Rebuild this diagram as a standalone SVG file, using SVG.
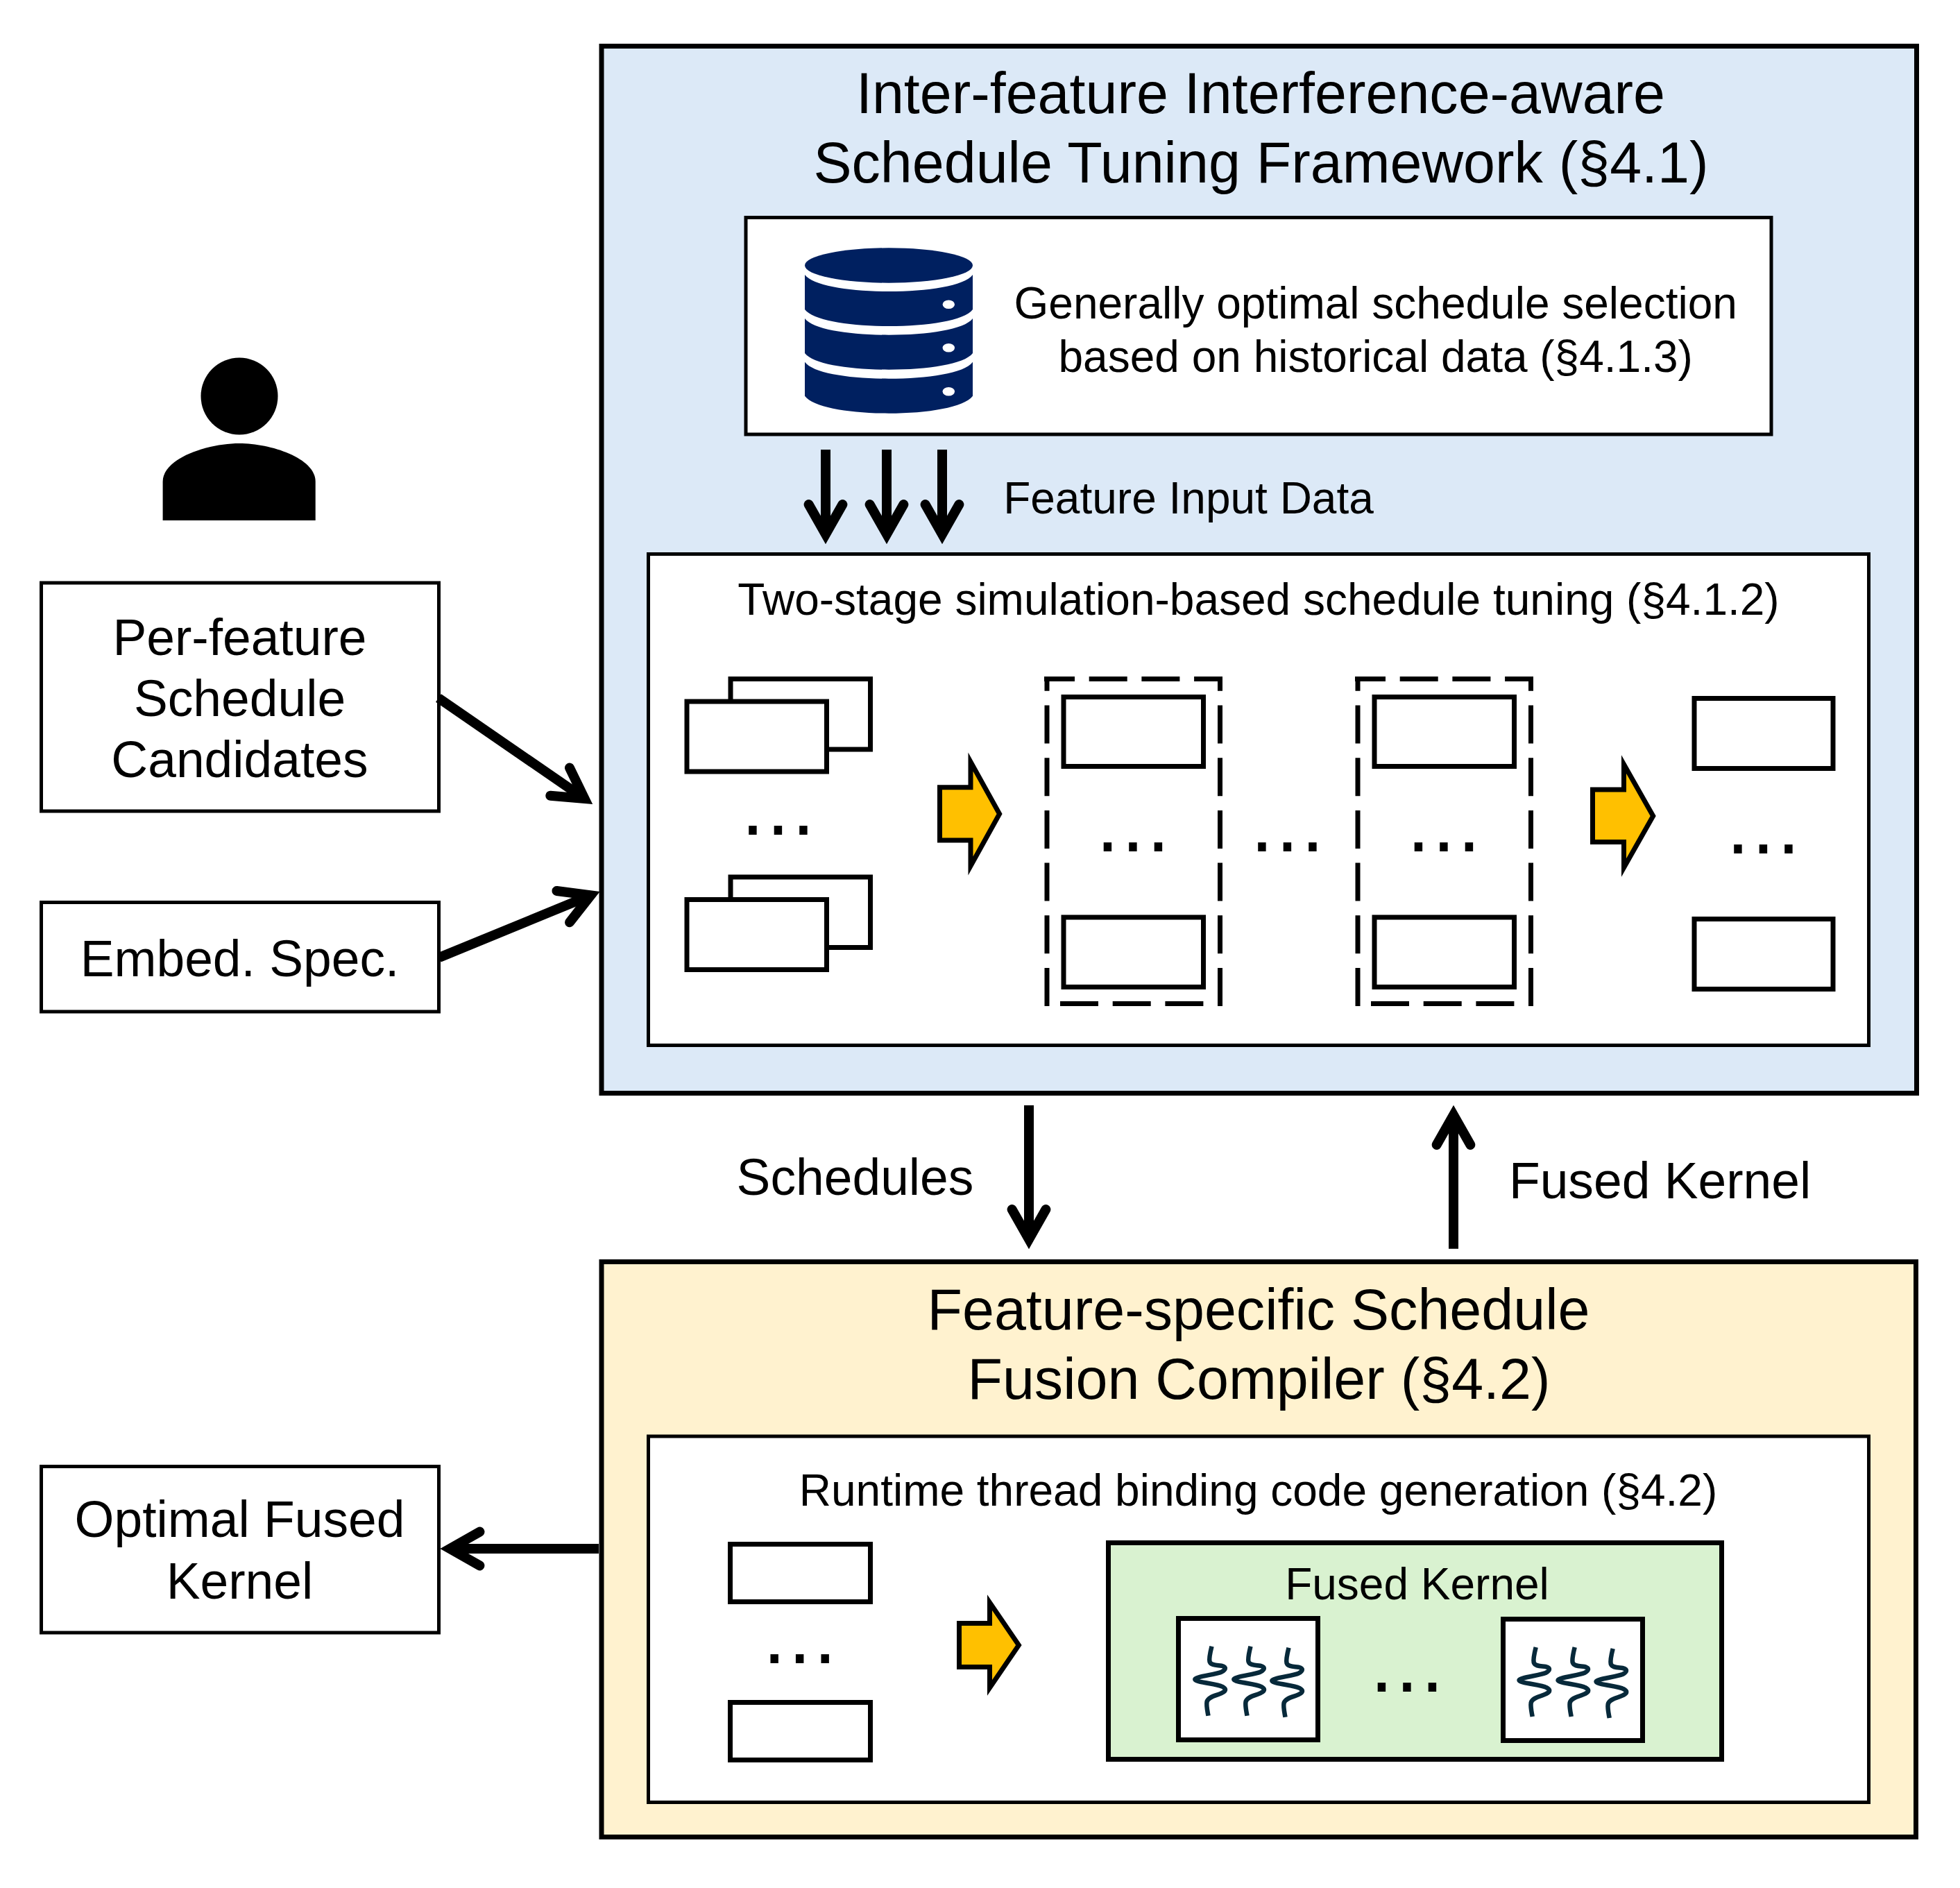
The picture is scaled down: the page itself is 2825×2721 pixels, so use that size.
<svg xmlns="http://www.w3.org/2000/svg" width="2825" height="2721" viewBox="0 0 2825 2721">
<style>
text{font-family:"Liberation Sans",Arial,sans-serif;fill:#000;text-anchor:middle}
.t82{font-size:82.6px}.t72{font-size:73.2px}.t64{font-size:64px}.dots{font-size:120px;letter-spacing:3.2px}
.outer{stroke:#000;stroke-width:7}.panel{fill:#fff;stroke:#000;stroke-width:5}
.box{fill:#fff;stroke:#000;stroke-width:5}.r{fill:#fff;stroke:#000;stroke-width:7}
.dash{fill:none;stroke:#000;stroke-width:7;stroke-dasharray:55 20.7}
.y{fill:#FFC000;stroke:#000;stroke-width:7;stroke-miterlimit:12}
.a{fill:none;stroke:#000;stroke-width:14;marker-end:url(#open)}
.w{fill:none;stroke:#07293A;stroke-width:6.5}
</style>
<defs>
<marker id="open" markerUnits="userSpaceOnUse" markerWidth="120" markerHeight="120" refX="0" refY="0" orient="auto" viewBox="-60 -60 120 120" overflow="visible">
<path d="M-43,-24.4L0,0L-43,24.4" fill="none" stroke="#000" stroke-width="14" stroke-linecap="round" stroke-miterlimit="10"/>
</marker>
<g id="waves">
<path id="wave" class="w" d="M0,0C-2,8-4,18-3,22C-1,28 8,27 14,28C22,30 20,34 14,37C4,41-26,44-24,48C-22,52 8,54 15,58C21,61 21,64 15,67C8,71-5,72-7,80C-8,86-6,94-5,100"/>
<use href="#wave" x="56" y="0"/>
<use href="#wave" x="111" y="2"/>
</g>
<g id="dashframe">
<path class="dash" d="M1509,1450V975"/>
<path class="dash" d="M1758.5,1450V975"/>
<path class="dash" style="stroke-dashoffset:11" d="M1505,978.5H1762"/>
<path class="dash" d="M1528,1446.5H1735"/>
<rect class="r" x="1533" y="1004.5" width="201.5" height="100"/>
<rect class="r" x="1533" y="1322" width="201.5" height="100.5"/>
<text class="dots" x="1634.6" y="1227">...</text>
</g>
<g id="stack">
<rect class="r" x="1053" y="978.5" width="201.5" height="101.5"/>
<rect class="r" x="990" y="1011" width="201.5" height="101"/>
</g>
</defs>
<rect width="2825" height="2721" fill="#fff"/>

<g id="user">
<circle cx="345" cy="571" r="55.5"/>
<path d="M234.6,750V694C234.6,660 300,639 345,639C390,639 454.7,660 454.7,694V750Z"/>
</g>

<g id="per-feature">
<rect class="box" x="59.5" y="840" width="573" height="329"/>
<text class="t72" x="345.5" y="943.5">Per-feature</text>
<text class="t72" x="345.5" y="1031.5">Schedule</text>
<text class="t72" x="345.5" y="1119.5">Candidates</text>
</g>
<g id="embed-spec">
<rect class="box" x="59.5" y="1300.5" width="573" height="157.5"/>
<text class="t72" x="345.5" y="1406.5">Embed. Spec.</text>
</g>
<g id="optimal">
<rect class="box" x="59.5" y="2113.5" width="573" height="239.5"/>
<text class="t72" x="345.5" y="2215">Optimal Fused</text>
<text class="t72" x="345.5" y="2303.5">Kernel</text>
</g>

<g id="tuning-framework">
<rect class="outer" fill="#DCE9F7" x="867" y="66.5" width="1895.5" height="1509"/>
<text class="t82" x="1817" y="162.5">Inter-feature Interference-aware</text>
<text class="t82" x="1817.5" y="262.5">Schedule Tuning Framework (§4.1)</text>
</g>
<g id="historical">
<rect class="panel" x="1075" y="313.5" width="1478" height="312.5"/>
<g id="database" fill="#002060">
<ellipse cx="1281" cy="382.5" rx="121" ry="25.2"/>
<path d="M1160,396C1172,412 1225,420 1281,420C1337,420 1390,412 1402,396V446C1390,462 1337,470 1281,470C1225,470 1172,462 1160,446Z"/>
<path d="M1160,459C1172,475 1225,482.7 1281,482.7C1337,482.7 1390,475 1402,459V509C1390,525 1337,532.7 1281,532.7C1225,532.7 1172,525 1160,509Z"/>
<path d="M1160,521.7C1172,538 1225,545.7 1281,545.7C1337,545.7 1390,538 1402,521.7V570.7C1390,587 1337,595.7 1281,595.7C1225,595.7 1172,587 1160,570.7Z"/>
<g fill="#fff"><ellipse cx="1367.3" cy="438.7" rx="8.7" ry="6.3"/><ellipse cx="1367.3" cy="501.3" rx="8.7" ry="6.3"/><ellipse cx="1367.3" cy="564.3" rx="8.7" ry="6.3"/></g>
</g>
<text class="t64" x="1982.7" y="459">Generally optimal schedule selection</text>
<text class="t64" x="1982.7" y="535.5">based on historical data (§4.1.3)</text>
</g>
<g id="feature-input-label"><text class="t64" x="1713" y="739.5">Feature Input Data</text></g>

<g id="simulation">
<rect class="panel" x="934.5" y="798.5" width="1759" height="708"/>
<text class="t64" x="1814" y="886">Two-stage simulation-based schedule tuning (§4.1.2)</text>
<use href="#stack"/>
<use href="#stack" y="285.5"/>
<text class="dots" x="1123" y="1203">...</text>
<path class="y" d="M1354.5,1134.7H1399V1098L1440.6,1173L1399,1248V1211H1354.5Z"/>
<use href="#dashframe"/>
<text class="dots" x="1857" y="1227">...</text>
<use href="#dashframe" x="448"/>
<path class="y" d="M2295.5,1138H2340.5V1101.5L2382.7,1176L2340.5,1250.5V1213.5H2295.5Z"/>
<rect class="r" x="2442" y="1006.5" width="200" height="101"/>
<rect class="r" x="2442" y="1324.5" width="200" height="101"/>
<text class="dots" x="2543" y="1230">...</text>
</g>

<g id="fusion-compiler">
<rect class="outer" fill="#FFF2CF" x="867" y="1818.5" width="1894.5" height="829"/>
<text class="t82" x="1814" y="1916">Feature-specific Schedule</text>
<text class="t82" x="1814.5" y="2015.5">Fusion Compiler (§4.2)</text>
</g>
<g id="runtime">
<rect class="panel" x="934.5" y="2070" width="1759" height="527.5"/>
<text class="t64" x="1813.5" y="2170">Runtime thread binding code generation (§4.2)</text>
<rect class="r" x="1052.5" y="2225.5" width="202" height="83"/>
<rect class="r" x="1052.5" y="2453.5" width="202" height="83"/>
<text class="dots" x="1154.2" y="2397">...</text>
<path class="y" d="M1382.5,2339.5H1426.5V2309.5L1468.4,2371L1426.5,2432.5V2402.5H1382.5Z"/>
</g>
<g id="fused-kernel">
<rect class="r" style="fill:#D9F2D0" x="1597.5" y="2223.5" width="884" height="312"/>
<text class="t64" x="2042.5" y="2305">Fused Kernel</text>
<rect class="r" x="1698.5" y="2332.5" width="201" height="175"/>
<use href="#waves" x="1746.5" y="2372.7"/>
<text class="dots" x="2029.6" y="2438">...</text>
<rect class="r" x="2166.5" y="2333.5" width="201" height="175"/>
<use href="#waves" x="2213.7" y="2374"/>
</g>

<g id="connector-labels">
<text class="t72" x="1232.5" y="1721.5">Schedules</text>
<text class="t72" x="2392.6" y="1726.5">Fused Kernel</text>
</g>
<g id="connectors">
<path class="a" d="M1190,648V770"/>
<path class="a" d="M1278,648V770"/>
<path class="a" d="M1358,648V770"/>
<path class="a" d="M632,1006L842.5,1151"/>
<path class="a" d="M633,1380L851.5,1290.3"/>
<path class="a" d="M1483,1593V1786"/>
<path class="a" d="M2095,1799.7V1607"/>
<path class="a" d="M863,2232H648.5"/>
</g>
</svg>
